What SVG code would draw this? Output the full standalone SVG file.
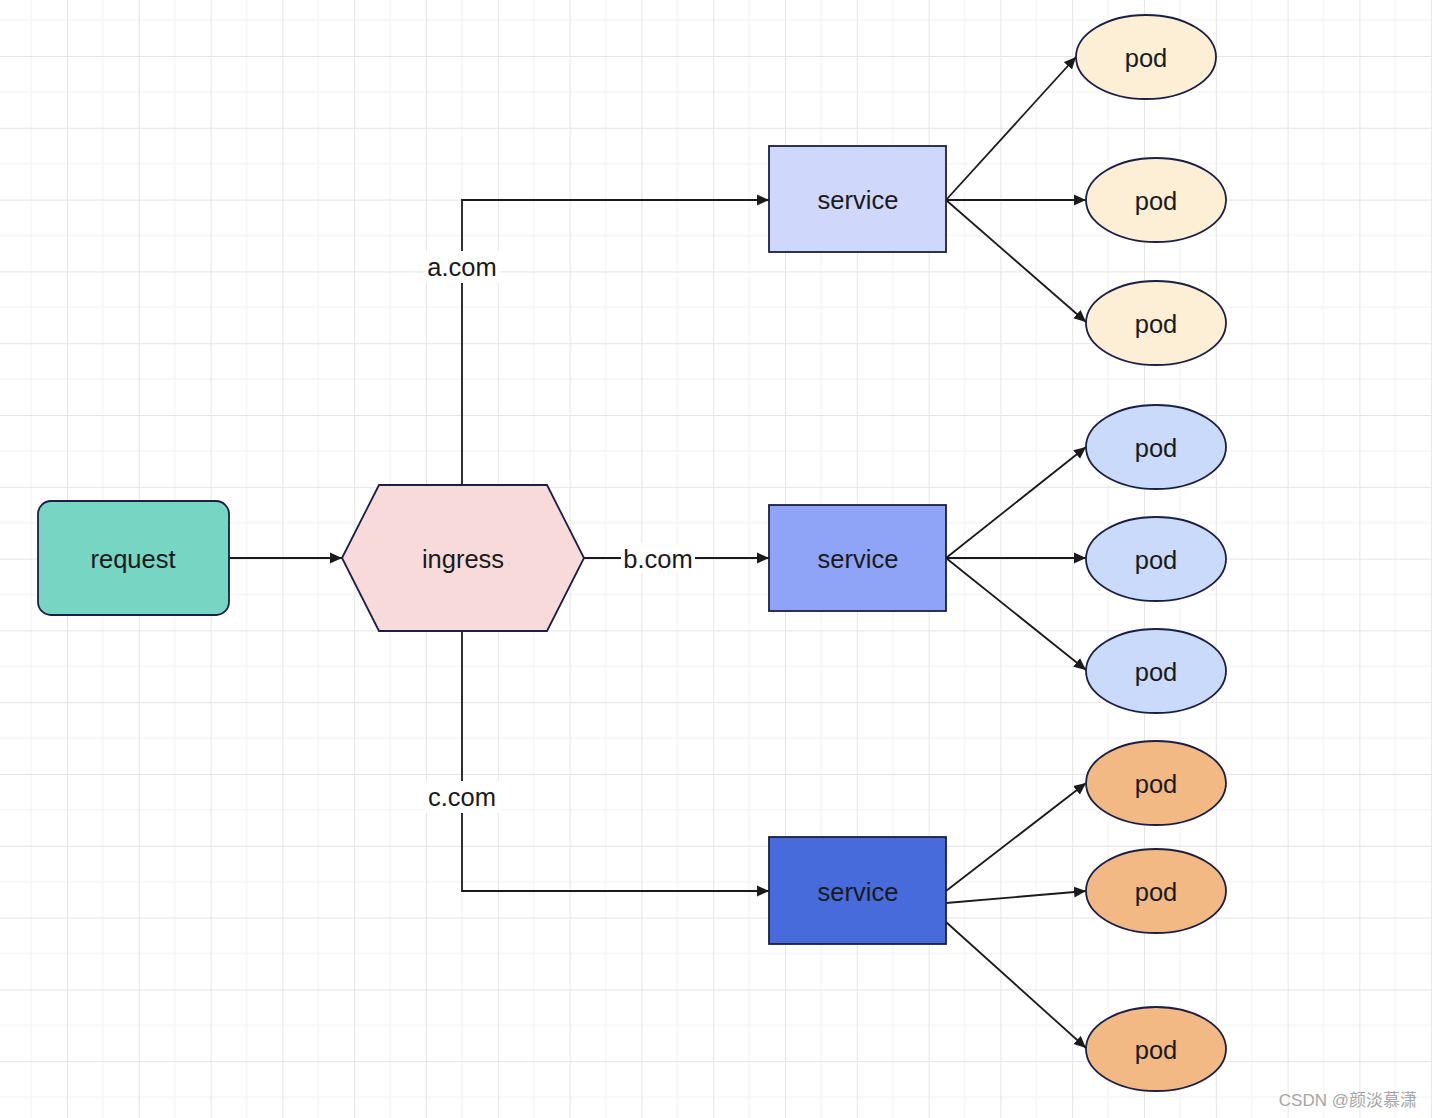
<svg xmlns="http://www.w3.org/2000/svg" width="1432" height="1118" viewBox="0 0 1432 1118">
<defs>
<pattern id="grid" x="67" y="56" width="71.8" height="71.8" patternUnits="userSpaceOnUse">
<line x1="35.9" y1="0" x2="35.9" y2="71.8" stroke="#f2f2f2" stroke-width="1"/>
<line x1="0" y1="35.9" x2="71.8" y2="35.9" stroke="#f2f2f2" stroke-width="1"/>
<line x1="0.5" y1="0" x2="0.5" y2="71.8" stroke="#e5e5e5" stroke-width="1"/>
<line x1="0" y1="0.5" x2="71.8" y2="0.5" stroke="#e5e5e5" stroke-width="1"/>
</pattern>
<marker id="arr" viewBox="0 0 12 12" refX="12" refY="6" markerWidth="12" markerHeight="12" markerUnits="userSpaceOnUse" orient="auto">
<path d="M0,0.5 L12,6 L0,11.5 Z" fill="#1a1a1a"/>
</marker>
<style>
.n{stroke:#1b1f45;stroke-width:1.8}
.t{font-family:"Liberation Sans",Arial,sans-serif;font-size:25.5px;fill:#1a1a1a;text-anchor:middle;dominant-baseline:central}
.e{fill:none;stroke:#1a1a1a;stroke-width:1.8;marker-end:url(#arr)}
.l{font-family:"Liberation Sans",Arial,sans-serif;font-size:25.5px;fill:#1a1a1a;text-anchor:middle;dominant-baseline:central}
.pa{fill:#fdeed6}
.pb{fill:#c9dafa}
.pc{fill:#f2b985}
</style>
</defs>
<rect width="1432" height="1118" fill="#ffffff"/>
<rect width="1432" height="1118" fill="url(#grid)"/>

<g id="connectors">
<path class="e" d="M229,558 L342,558"/>
<path class="e" d="M462,485 L462,200 L769,200"/>
<rect x="424" y="251" width="76" height="32" fill="#ffffff"/>
<text class="l" x="462" y="267">a.com</text>
<path class="e" d="M584,558 L769,558"/>
<rect x="621" y="543" width="74" height="30" fill="#ffffff"/>
<text class="l" x="658" y="559">b.com</text>
<path class="e" d="M462,631 L462,891 L769,891"/>
<rect x="424" y="781" width="76" height="32" fill="#ffffff"/>
<text class="l" x="462" y="797">c.com</text>
<path class="e" d="M946,200 L1076,57"/>
<path class="e" d="M946,200 L1086,200"/>
<path class="e" d="M946,200 L1086,322"/>
<path class="e" d="M946,558 L1086,447"/>
<path class="e" d="M946,558 L1086,558"/>
<path class="e" d="M946,558 L1086,670"/>
<path class="e" d="M946,891 L1086,783"/>
<path class="e" d="M946,903 L1086,891"/>
<path class="e" d="M946,922 L1086,1048"/>
</g>

<g id="request">
<rect class="n" x="38" y="501" width="191" height="114" rx="13" fill="#77d5c4"/>
<text class="t" x="133" y="559">request</text>
</g>
<g id="ingress">
<polygon class="n" points="342,558 379,485 547,485 584,558 547,631 379,631" fill="#f8dada"/>
<text class="t" x="463" y="559">ingress</text>
</g>
<g id="service1">
<rect class="n" x="769" y="146" width="177" height="106" fill="#cfd7fb"/>
<text class="t" x="858" y="200">service</text>
</g>
<g id="service2">
<rect class="n" x="769" y="505" width="177" height="106" fill="#8fa4f7"/>
<text class="t" x="858" y="559">service</text>
</g>
<g id="service3">
<rect class="n" x="769" y="837" width="177" height="107" fill="#476bdb"/>
<text class="t" x="858" y="892">service</text>
</g>

<g id="pod1"><ellipse class="n pa" cx="1146" cy="57" rx="70" ry="42"/><text class="t" x="1146" y="58">pod</text></g>
<g id="pod2"><ellipse class="n pa" cx="1156" cy="200" rx="70" ry="42"/><text class="t" x="1156" y="201">pod</text></g>
<g id="pod3"><ellipse class="n pa" cx="1156" cy="323" rx="70" ry="42"/><text class="t" x="1156" y="324">pod</text></g>
<g id="pod4"><ellipse class="n pb" cx="1156" cy="447" rx="70" ry="42"/><text class="t" x="1156" y="448">pod</text></g>
<g id="pod5"><ellipse class="n pb" cx="1156" cy="559" rx="70" ry="42"/><text class="t" x="1156" y="560">pod</text></g>
<g id="pod6"><ellipse class="n pb" cx="1156" cy="671" rx="70" ry="42"/><text class="t" x="1156" y="672">pod</text></g>
<g id="pod7"><ellipse class="n pc" cx="1156" cy="783" rx="70" ry="42"/><text class="t" x="1156" y="784">pod</text></g>
<g id="pod8"><ellipse class="n pc" cx="1156" cy="891" rx="70" ry="42"/><text class="t" x="1156" y="892">pod</text></g>
<g id="pod9"><ellipse class="n pc" cx="1156" cy="1049" rx="70" ry="42"/><text class="t" x="1156" y="1050">pod</text></g>

<text x="1417" y="1100" font-family="'Liberation Sans','Noto Sans CJK SC',sans-serif" font-size="17" fill="#a6a6a6" text-anchor="end" dominant-baseline="central">CSDN @颜淡慕潇</text>
</svg>
